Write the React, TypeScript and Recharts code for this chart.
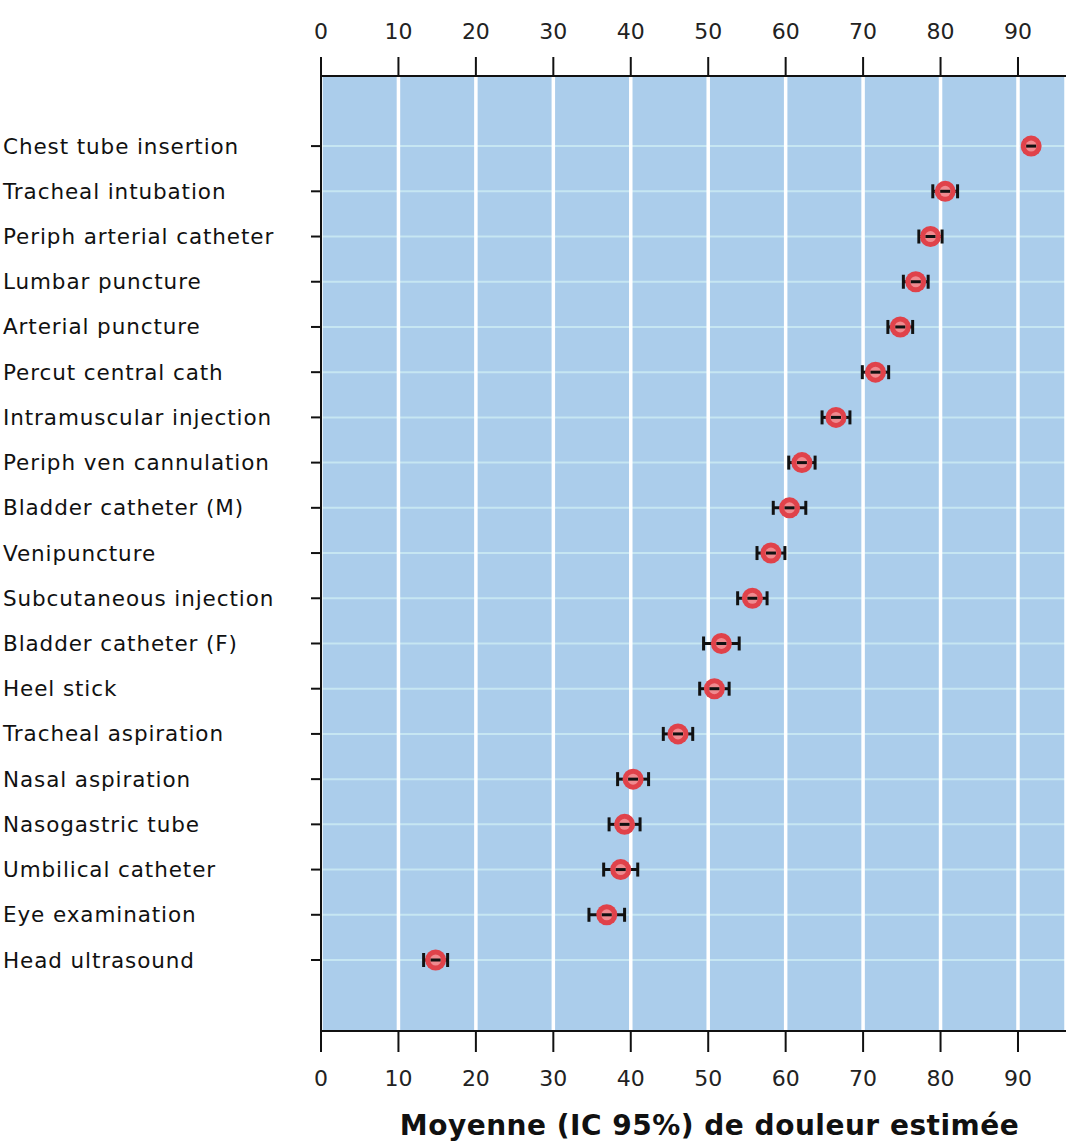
import React from 'react';
import { ScatterChart, Scatter, XAxis, YAxis, CartesianGrid, ErrorBar, Label } from 'recharts';

const PROCEDURES = [
    'Chest tube insertion',
    'Tracheal intubation',
    'Periph arterial catheter',
    'Lumbar puncture',
    'Arterial puncture',
    'Percut central cath',
    'Intramuscular injection',
    'Periph ven cannulation',
    'Bladder catheter (M)',
    'Venipuncture',
    'Subcutaneous injection',
    'Bladder catheter (F)',
    'Heel stick',
    'Tracheal aspiration',
    'Nasal aspiration',
    'Nasogastric tube',
    'Umbilical catheter',
    'Eye examination',
    'Head ultrasound',
];

const MEANS = [91.7, 80.6, 78.7, 76.8, 74.8, 71.6, 66.5, 62.1, 60.5, 58.1, 55.7, 51.7, 50.8, 46.1, 40.3, 39.2, 38.7, 36.9, 14.8];
const CI_HALF = [0.8, 1.6, 1.5, 1.6, 1.6, 1.7, 1.8, 1.7, 2.1, 1.8, 1.9, 2.3, 1.9, 1.9, 2.0, 2.0, 2.2, 2.3, 1.55];

const X_TICKS = [0, 10, 20, 30, 40, 50, 60, 70, 80, 90];
const ROW_TICKS = PROCEDURES.map((_, i) => i);

const data = PROCEDURES.map((name, i) => ({ name, row: i, mean: MEANS[i], ci: CI_HALF[i] }));

const FONT = '"DejaVu Sans", Verdana, sans-serif';

const MeanDot = (props: any) => {
    const { cx, cy } = props;
    return (
        <g>
            <circle cx={cx} cy={cy} r={10.5} fill="#e0424a" />
            <circle cx={cx} cy={cy} r={5.5} fill="#f08a8f" />
            <line x1={cx - 5} x2={cx + 5} y1={cy} y2={cy} stroke="#111" strokeWidth={3} />
        </g>
    );
};

const RowLabel = (props: any) => {
    const { y, payload } = props;
    return (
        <text
            x={3}
            y={y}
            dy="0.35em"
            textAnchor="start"
            fontFamily={FONT}
            fontSize={21.5}
            letterSpacing={0.9}
            fill="#111"
        >
            {PROCEDURES[payload.value]}
        </text>
    );
};

const App: React.FC = () => {
    return (
        <div style={{ position: 'absolute', left: 0, top: 0, background: '#fff' }}>
            <ScatterChart width={1073} height={1146} margin={{ top: 0, right: 7, bottom: 0, left: 0 }}>
                <CartesianGrid
                    xAxisId="b"
                    yAxisId="y"
                    vertical={false}
                    horizontal
                    stroke="#c6e6f2"
                    strokeWidth={2}
                    fill="#abcdeb"
                    fillOpacity={1}
                />
                <CartesianGrid
                    xAxisId="b"
                    yAxisId="y"
                    vertical
                    horizontal={false}
                    stroke="#ffffff"
                    strokeWidth={3.5}
                />
                <XAxis
                    xAxisId="t"
                    orientation="top"
                    type="number"
                    dataKey="mean"
                    domain={[0, 96.2]}
                    ticks={X_TICKS}
                    height={76}
                    tickSize={19}
                    tickMargin={18}
                    axisLine={{ stroke: '#111', strokeWidth: 2 }}
                    tickLine={{ stroke: '#111', strokeWidth: 2 }}
                    tick={{ fontFamily: FONT, fontSize: 22, fill: '#222' }}
                    allowDataOverflow
                />
                <XAxis
                    xAxisId="b"
                    orientation="bottom"
                    type="number"
                    dataKey="mean"
                    domain={[0, 96.2]}
                    ticks={X_TICKS}
                    height={115}
                    tickSize={21}
                    tickMargin={18}
                    axisLine={{ stroke: '#111', strokeWidth: 2 }}
                    tickLine={{ stroke: '#111', strokeWidth: 2 }}
                    tick={{ fontFamily: FONT, fontSize: 22, fill: '#222' }}
                    allowDataOverflow
                >
                    <Label
                        value="Moyenne (IC 95%) de douleur estimée"
                        position="insideBottom"
                        offset={11}
                        dx={16}
                        style={{ fontFamily: FONT, fontSize: 28, fontWeight: 'bold', fill: '#111', letterSpacing: 0.5 }}
                    />
                </XAxis>
                <YAxis
                    yAxisId="y"
                    type="number"
                    dataKey="row"
                    reversed
                    domain={[-1.55, 19.57]}
                    ticks={ROW_TICKS}
                    interval={0}
                    width={321}
                    tickSize={10}
                    axisLine={{ stroke: '#111', strokeWidth: 2 }}
                    tickLine={{ stroke: '#111', strokeWidth: 2 }}
                    tick={<RowLabel />}
                    allowDataOverflow
                />
                <YAxis
                    yAxisId="r"
                    orientation="right"
                    type="number"
                    width={0}
                    tick={false}
                    tickLine={false}
                    axisLine={{ stroke: '#111', strokeWidth: 2 }}
                />
                <Scatter
                    data={data}
                    xAxisId="b"
                    yAxisId="y"
                    dataKey="mean"
                    shape={<MeanDot />}
                    isAnimationActive={false}
                >
                    <ErrorBar dataKey="ci" direction="x" width={7} stroke="#111" strokeWidth={3} />
                </Scatter>
            </ScatterChart>
        </div>
    );
};

export default App;
